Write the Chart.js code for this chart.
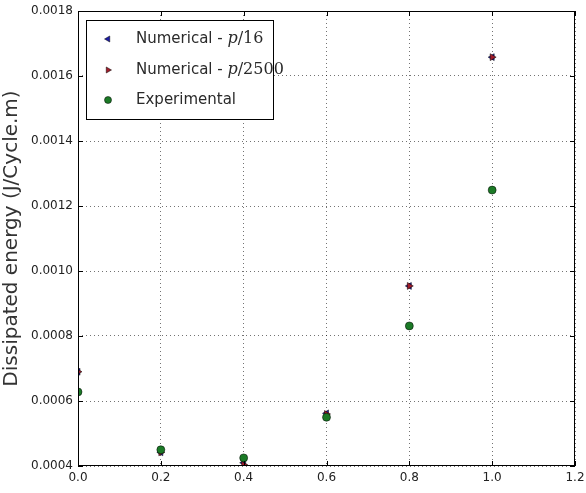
<!DOCTYPE html>
<html>
<head>
<meta charset="utf-8">
<script src="https://cdn.jsdelivr.net/npm/chart.js@4/dist/chart.umd.min.js"></script>
<style>
  html, body { margin: 0; padding: 0; background: #fff; }
  #wrap { width: 586px; height: 493px; position: relative; }
</style>
</head>
<body>
<div id="wrap"><canvas id="chart"></canvas></div>
<script>
// values
const xValues = [0.0, 0.2, 0.4, 0.6, 0.8, 1.0];
const numP16 = [0.000690, 0.000442, 0.000410, 0.000562, 0.000954, 0.001658];
const numP2500 = [0.000690, 0.000442, 0.000404, 0.000560, 0.000954, 0.001658];
const experimental = [0.000628, 0.000450, 0.000425, 0.000550, 0.000831, 0.001249];

const xTicks = [0.0, 0.2, 0.4, 0.6, 0.8, 1.0, 1.2];
const yTicks = [0.0004, 0.0006, 0.0008, 0.0010, 0.0012, 0.0014, 0.0016, 0.0018];

const COLORS = {
  blue: "#1c1ca8",
  red: "#a01c2a",
  green: "#1b7a26",
  grid: "rgba(0,0,0,0.55)",
  text: "#222",
};

const toPoints = (ys) => xValues.map((x, i) => ({ x, y: ys[i] }));

// frame with inward ticks on all four sides, plus the in-plot legend
const framePlugin = {
  id: "frame",
  afterDraw(chart) {
    const { ctx, chartArea: a, scales } = chart;
    ctx.save();
    ctx.strokeStyle = "#000";
    ctx.lineWidth = 1;
    ctx.strokeRect(a.left + 0.5, a.top + 0.5, a.right - a.left - 1, a.bottom - a.top - 1);
    ctx.beginPath();
    const t = 5;
    xTicks.forEach((v) => {
      const px = Math.round(scales.x.getPixelForValue(v)) + 0.5;
      ctx.moveTo(px, a.bottom); ctx.lineTo(px, a.bottom - t);
      ctx.moveTo(px, a.top); ctx.lineTo(px, a.top + t);
    });
    yTicks.forEach((v) => {
      const py = Math.round(scales.y.getPixelForValue(v)) + 0.5;
      ctx.moveTo(a.left, py); ctx.lineTo(a.left + t, py);
      ctx.moveTo(a.right, py); ctx.lineTo(a.right - t, py);
    });
    ctx.stroke();

    // legend
    const lx = a.left + 8, ly = a.top + 9, lw = 187, lh = 99;
    ctx.fillStyle = "#fff";
    ctx.fillRect(lx, ly, lw, lh);
    ctx.strokeRect(lx + 0.5, ly + 0.5, lw, lh);
    const rows = [
      { ds: 0, y: ly + 19, label: "Numerical - ", math: ["p", "/16"] },
      { ds: 1, y: ly + 50, label: "Numerical - ", math: ["p", "/2500"] },
      { ds: 2, y: ly + 80, label: "Experimental" },
    ];
    rows.forEach((r) => {
      const d = chart.data.datasets[r.ds];
      ctx.fillStyle = d.backgroundColor;
      ctx.strokeStyle = d.borderColor;
      ctx.lineWidth = d.borderWidth;
      Chart.helpers.drawPoint(ctx, {
        pointStyle: d.pointStyle,
        rotation: d.rotation || 0,
        radius: 3.5,
        borderWidth: d.borderWidth,
      }, lx + 22, r.y);
      ctx.fillStyle = "#2a2a2a";
      ctx.textBaseline = "middle";
      ctx.textAlign = "left";
      ctx.font = "15px 'DejaVu Sans'";
      let tx = lx + 50;
      ctx.fillText(r.label, tx, r.y);
      if (r.math) {
        tx += ctx.measureText(r.label).width;
        ctx.font = "italic 16px 'DejaVu Serif'";
        ctx.fillText(r.math[0], tx, r.y);
        tx += ctx.measureText(r.math[0]).width;
        ctx.font = "16px 'DejaVu Serif'";
        ctx.fillText(r.math[1], tx, r.y);
      }
    });
    ctx.restore();
  },
};

const gridCfg = {
  color: COLORS.grid,
  lineWidth: 1,
  drawTicks: false,
};

new Chart(document.getElementById("chart"), {
  type: "scatter",
  data: {
    datasets: [
      {
        label: "Numerical - p/16",
        data: toPoints(numP16),
        pointStyle: "triangle",
        rotation: -90,
        pointRadius: 4,
        backgroundColor: COLORS.blue,
        borderColor: "#000",
        borderWidth: 0.5,
        order: 2,
        clip: 0,
      },
      {
        label: "Numerical - p/2500",
        data: toPoints(numP2500),
        pointStyle: "triangle",
        rotation: 90,
        pointRadius: 4,
        backgroundColor: COLORS.red,
        borderColor: "#000",
        borderWidth: 0.5,
        order: 1,
        clip: 0,
      },
      {
        label: "Experimental",
        data: toPoints(experimental),
        pointStyle: "circle",
        pointRadius: 4,
        backgroundColor: COLORS.green,
        borderColor: "#000",
        borderWidth: 0.5,
        order: 0,
        clip: 0,
      },
    ],
  },
  options: {
    responsive: true,
    maintainAspectRatio: false,
    animation: false,
    layout: { padding: { top: 11, right: 11, left: 0, bottom: 0 } },
    plugins: {
      legend: { display: false },
      tooltip: { enabled: false },
    },
    scales: {
      x: {
        type: "linear",
        min: 0,
        max: 1.2,
        afterBuildTicks: (s) => { s.ticks = xTicks.map((v) => ({ value: v })); },
        afterFit: (s) => { s.height = 27; s.paddingLeft = 0; s.paddingRight = 0; },
        ticks: {
          color: COLORS.text,
          font: { family: "DejaVu Sans", size: 12 },
          padding: 5,
          maxRotation: 0,
          callback: (v) => Number(v).toFixed(1),
        },
        grid: { ...gridCfg },
        border: { display: false, dash: [1, 3] },
      },
      y: {
        type: "linear",
        min: 0.0004,
        max: 0.0018,
        afterBuildTicks: (s) => { s.ticks = yTicks.map((v) => ({ value: v })); },
        afterFit: (s) => { s.width = 78; s.paddingTop = 0; s.paddingBottom = 0; },
        ticks: {
          color: COLORS.text,
          font: { family: "DejaVu Sans", size: 12 },
          padding: 5,
          callback: (v) => Number(v).toFixed(4),
        },
        title: {
          display: true,
          text: "Dissipated energy (J/Cycle.m)",
          color: "#333",
          font: { family: "DejaVu Sans", size: 20 },
          padding: { top: 0, bottom: 2 },
        },
        grid: { ...gridCfg },
        border: { display: false, dash: [1, 3] },
      },
    },
  },
  plugins: [framePlugin],
});
</script>
</body>
</html>
